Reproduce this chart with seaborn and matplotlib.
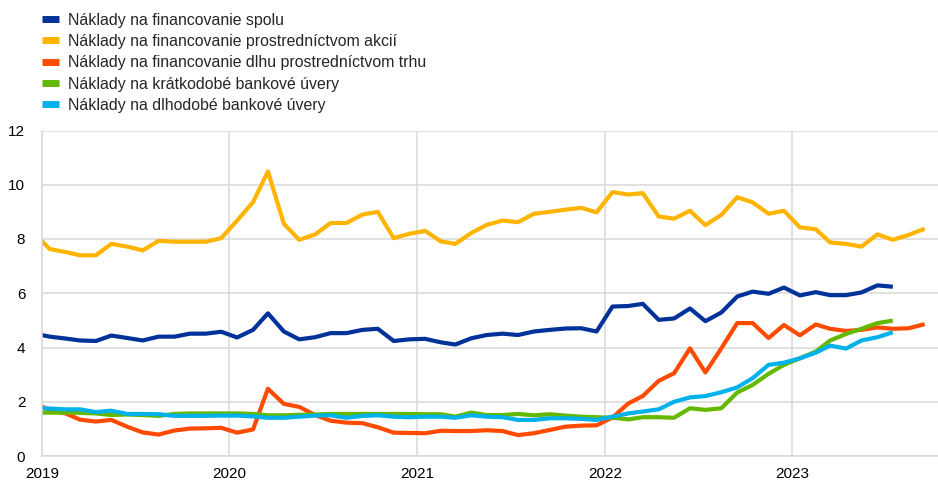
import numpy as np
import pandas as pd
import matplotlib
matplotlib.use("Agg")
import matplotlib.pyplot as plt
import matplotlib.dates as mdates
import seaborn as sns
from matplotlib.lines import Line2D

nan = np.nan
months = pd.date_range("2018-12-01", "2023-09-01", freq="MS") + pd.Timedelta(days=15)

spolu = [4.52,
         4.40, 4.33, 4.26, 4.24, 4.44, 4.35, 4.26, 4.40, 4.40, 4.51, 4.51, 4.58,
         4.37, 4.65, 5.26, 4.59, 4.30, 4.38, 4.53, 4.53, 4.65, 4.69, 4.24, 4.30,
         4.32, 4.19, 4.11, 4.34, 4.46, 4.51, 4.46, 4.59, 4.65, 4.70, 4.71, 4.59,
         5.51, 5.53, 5.61, 5.02, 5.07, 5.44, 4.97, 5.29, 5.88, 6.06, 5.98, 6.21,
         5.92, 6.04, 5.93, 5.93, 6.03, 6.29, 6.24, nan, nan]
akcie = [8.23,
         7.63, 7.52, 7.40, 7.40, 7.82, 7.72, 7.58, 7.93, 7.90, 7.90, 7.90, 8.03,
         8.68, 9.36, 10.49, 8.56, 7.97, 8.17, 8.59, 8.59, 8.90, 9.00, 8.03, 8.19,
         8.30, 7.91, 7.82, 8.22, 8.52, 8.68, 8.62, 8.93, 9.00, 9.08, 9.15, 8.98,
         9.73, 9.64, 9.69, 8.83, 8.75, 9.04, 8.51, 8.89, 9.54, 9.35, 8.93, 9.04,
         8.43, 8.36, 7.87, 7.82, 7.72, 8.17, 7.97, 8.15, 8.38]
dlh_trh = [1.94,
           1.70, 1.57, 1.34, 1.27, 1.33, 1.08, 0.87, 0.79, 0.94, 1.01, 1.02, 1.04,
           0.86, 0.98, 2.48, 1.92, 1.81, 1.51, 1.30, 1.23, 1.21, 1.06, 0.86, 0.85,
           0.84, 0.93, 0.92, 0.92, 0.95, 0.92, 0.77, 0.84, 0.96, 1.08, 1.12, 1.13,
           1.42, 1.94, 2.21, 2.77, 3.05, 3.97, 3.08, 3.97, 4.90, 4.90, 4.35, 4.83,
           4.45, 4.85, 4.69, 4.61, 4.65, 4.74, 4.69, 4.71, 4.86]
kratkodobe = [1.60,
              1.60, 1.60, 1.59, 1.57, 1.51, 1.53, 1.51, 1.48, 1.55, 1.57, 1.57, 1.57,
              1.57, 1.55, 1.50, 1.50, 1.52, 1.53, 1.55, 1.55, 1.55, 1.55, 1.55, 1.55,
              1.54, 1.54, 1.45, 1.60, 1.51, 1.51, 1.55, 1.50, 1.54, 1.49, 1.45, 1.43,
              1.41, 1.35, 1.43, 1.43, 1.41, 1.76, 1.70, 1.76, 2.34, 2.62, 3.03, 3.36,
              3.60, 3.85, 4.26, 4.50, 4.69, 4.90, 4.99, nan, nan]
dlhodobe = [1.77,
            1.75, 1.72, 1.72, 1.62, 1.67, 1.55, 1.55, 1.54, 1.48, 1.48, 1.48, 1.49,
            1.49, 1.46, 1.41, 1.41, 1.45, 1.49, 1.50, 1.41, 1.48, 1.50, 1.45, 1.43,
            1.45, 1.45, 1.41, 1.50, 1.45, 1.43, 1.33, 1.33, 1.39, 1.39, 1.37, 1.33,
            1.45, 1.57, 1.64, 1.72, 2.00, 2.16, 2.21, 2.35, 2.53, 2.87, 3.36, 3.44,
            3.60, 3.81, 4.07, 3.96, 4.26, 4.38, 4.56, nan, nan]

labels = ["Náklady na financovanie spolu",
          "Náklady na financovanie prostredníctvom akcií",
          "Náklady na financovanie dlhu prostredníctvom trhu",
          "Náklady na krátkodobé bankové úvery",
          "Náklady na dlhodobé bankové úvery"]
colors = ["#003299", "#FFB400", "#FF4B00", "#65B800", "#00B1EA"]
series = [spolu, akcie, dlh_trh, kratkodobe, dlhodobe]

frames = []
for lab, vals in zip(labels, series):
    frames.append(pd.DataFrame({"date": months, "value": vals, "series": lab}))
df = pd.concat(frames, ignore_index=True).dropna()

sns.set_style("white")
plt.rcParams["font.family"] = ["Liberation Sans", "DejaVu Sans"]

fig = plt.figure(figsize=(9.38, 4.84), dpi=100)
ax = fig.add_axes([42/938, 28/484, 896/938, 325.5/484])

sns.lineplot(data=df, x="date", y="value", hue="series", hue_order=labels,
             palette=dict(zip(labels, colors)), linewidth=3.0, ax=ax,
             legend=False, sort=True, estimator=None)
for ln in ax.get_lines():
    ln.set_solid_joinstyle("round")
    ln.set_solid_capstyle("butt")

ax.set_xlim(pd.Timestamp("2019-01-01"), pd.Timestamp("2023-10-12"))
ax.set_ylim(0, 12)
ax.set_yticks(range(0, 13, 2))
ax.xaxis.set_major_locator(mdates.YearLocator())
ax.xaxis.set_major_formatter(mdates.DateFormatter("%Y"))
ax.grid(True, color="#d9d9d9", linewidth=1.1)
ax.set_axisbelow(True)
for s in ["top", "right"]:
    ax.spines[s].set_visible(False)
for s in ["left", "bottom"]:
    ax.spines[s].set_visible(True)
    ax.spines[s].set_color("#d9d9d9")
    ax.spines[s].set_linewidth(1.1)
ax.tick_params(axis="both", length=0, labelsize=11, colors="#000000")
ax.tick_params(axis="y", pad=12)
ax.tick_params(axis="x", pad=8)
ax.set_xlabel("")
ax.set_ylabel("")

handles = [Line2D([0], [0], color=c, lw=5, solid_capstyle="butt") for c in colors]
fig.legend(handles, labels, loc="upper left", bbox_to_anchor=(42/938, 1 - 12.5/484),
           frameon=False, fontsize=11.4, handlelength=1.1, handletextpad=0.55,
           labelspacing=0.40, borderaxespad=0, borderpad=0)

fig.savefig("out.png", dpi=100)
